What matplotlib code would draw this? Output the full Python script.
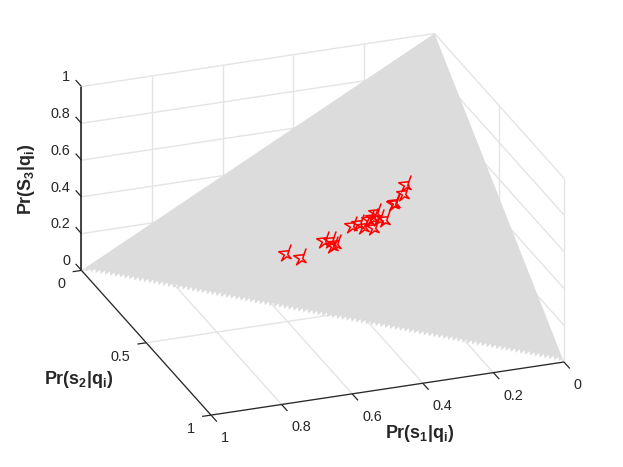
import numpy as np
import matplotlib
matplotlib.use("Agg")
import matplotlib.pyplot as plt
from matplotlib.path import Path
from mpl_toolkits.mplot3d import proj3d
from mpl_toolkits.mplot3d.art3d import Poly3DCollection

plt.rcParams['font.family'] = ['Liberation Sans', 'DejaVu Sans']
plt.rcParams['mathtext.fontset'] = 'custom'
plt.rcParams['mathtext.rm'] = 'Liberation Sans'
plt.rcParams['mathtext.bf'] = 'Liberation Sans:bold'

# points on the simplex
s1_vals = [.5285, .4984, .4320, .4163, .4078, .4162, .3561, .3387, .3302, .3087,
           .3128, .2910, .3021, .2895, .2770, .2427, .2396, .2116, .1992]
s2_vals = [.2874, .3213, .3172, .3285, .3438, .3438, .3261, .3325, .3478, .3663,
           .3390, .3333, .3406, .3527, .3647, .3406, .3398, .3325, .3140]
s3_vals = [.1841, .1803, .2508, .2552, .2484, .2400, .3178, .3288, .3220, .3250,
           .3482, .3757, .3573, .3578, .3583, .4167, .4206, .4559, .4868]

x_ticks = [0, 0.2, 0.4, 0.6, 0.8, 1]
y_ticks = [0, 0.5, 1]
z_ticks = [0, 0.2, 0.4, 0.6, 0.8, 1]
tick_text = {0: '0', 0.2: '0.2', 0.4: '0.4', 0.5: '0.5', 0.6: '0.6', 0.8: '0.8', 1: '1'}

W, H = 623, 467
GRID = '#e4e4e4'
DARK = '#262626'

fig = plt.figure(figsize=(W / 100, H / 100), dpi=100)
ax = fig.add_axes([0.05, 0.05, 0.9, 0.9], projection='3d', proj_type='ortho', computed_zorder=False)
ax.view_init(elev=24.2, azim=69.85, roll=0)
ax.set_xlim(0, 1, view_margin=0)
ax.set_ylim(0, 1, view_margin=0)
ax.set_zlim(0, 1, view_margin=0)
ax.set_xticks([])
ax.set_yticks([])
ax.set_zticks([])
ax.set_axis_off()


def to_px(x, y, z):
    u, v, _ = proj3d.proj_transform(x, y, z, ax.get_proj())
    return ax.transData.transform((u, v))


# fit the box to where the corners sit in the reference
box = (1, 1, 0.536)
ax.set_box_aspect(box, zoom=1)
ax.apply_aspect()
span = np.linalg.norm(to_px(1, 1, 0) - to_px(0, 1, 0))
ax.set_box_aspect(box, zoom=356.96 / span)
ax.apply_aspect()
dx, dy = np.array([564, H - 362]) - to_px(0, 1, 0)
ax.set_position([0.05 + dx / W, 0.05 + dy / H, 0.9, 0.9])
ax.apply_aspect()


def seg(p, q, color=GRID, lw=1.0, z=1):
    ax.plot([p[0], q[0]], [p[1], q[1]], [p[2], q[2]], color=color, lw=lw, zorder=z,
            solid_capstyle='butt', clip_on=False)


def tick_label(x, y, z, s, ha):
    px = to_px(x, y, z)
    fig.text(px[0] / W, px[1] / H, s, ha=ha, va='center', fontsize=10.4, color=DARK)


# grid on the floor and the two back walls
for v in x_ticks:
    seg((v, 0, 0), (v, 1, 0))
    seg((v, 0, 0), (v, 0, 1))
for v in y_ticks:
    seg((0, v, 0), (1, v, 0))
    seg((0, v, 0), (0, v, 1))
for v in z_ticks:
    seg((0, 0, v), (1, 0, v))
    seg((0, 0, v), (0, 1, v))

# simplex surface, the lower edge is stepped by the 0.01 mesh
steps = np.arange(100, 0, -1) / 100
verts = [(1, 0, 0)]
for a in steps:
    verts.append((a - 0.012, 1 - a - 0.002, 0.014))
    verts.append((a - 0.01, 1 - a + 0.01, 0))
verts.append((0, 0, 1))
surface = Poly3DCollection([verts], facecolor='#dcdcdc', edgecolor='none', zorder=2)
ax.add_collection3d(surface)
surface.set_clip_on(False)

# stars are half sunk in the surface so only part of the outline shows
star = Path([(5, 8), (3, 2.5), (-6, 1.5), (-1, -1.5), (-3.5, -6.5), (1, -3), (5, -4.5), (2, -1), (3, 2.5)])
ax.plot(s1_vals, s2_vals, s3_vals, linestyle='none', marker=star, markersize=13,
        markerfacecolor='none', markeredgecolor='red', markeredgewidth=1.1, zorder=3, clip_on=False)

# axes and ticks
seg((1, 0, 0), (1, 0, 1), DARK, 1.2, 4)
seg((1, 0, 0), (1, 1, 0), DARK, 0.9, 4)
seg((1, 1, 0), (0, 1, 0), DARK, 0.9, 4)
for v in x_ticks:
    seg((v, 1, 0), (v, 1.045, 0), DARK, 0.9, 4)
    tick_label(v + 0.0265, 1.149, 0, tick_text[v], 'left')
for v in y_ticks:
    seg((1, v, 0), (1.025, v, 0), DARK, 0.9, 4)
    tick_label(1.071, v + 0.07, 0, tick_text[v], 'right')
for v in z_ticks:
    seg((1, 0, v), (1, -0.045, v), DARK, 0.9, 4)
    tick_label(1, -0.085, v - 0.016, tick_text[v], 'right')

fig.text(419.5 / W, 1 - 433 / H, r'$\mathbf{Pr(s_1|q_i)}$', ha='center', va='center', fontsize=12.9, color=DARK)
fig.text(79 / W, 1 - 380 / H, r'$\mathbf{Pr(s_2|q_i)}$', ha='center', va='center', fontsize=12.9, color=DARK)
fig.text(27 / W, 1 - 179 / H, r'$\mathbf{Pr(S_3|q_i)}$', ha='center', va='center', rotation=90,
         fontsize=12.9, color=DARK)

fig.savefig('out.png', dpi=100)
